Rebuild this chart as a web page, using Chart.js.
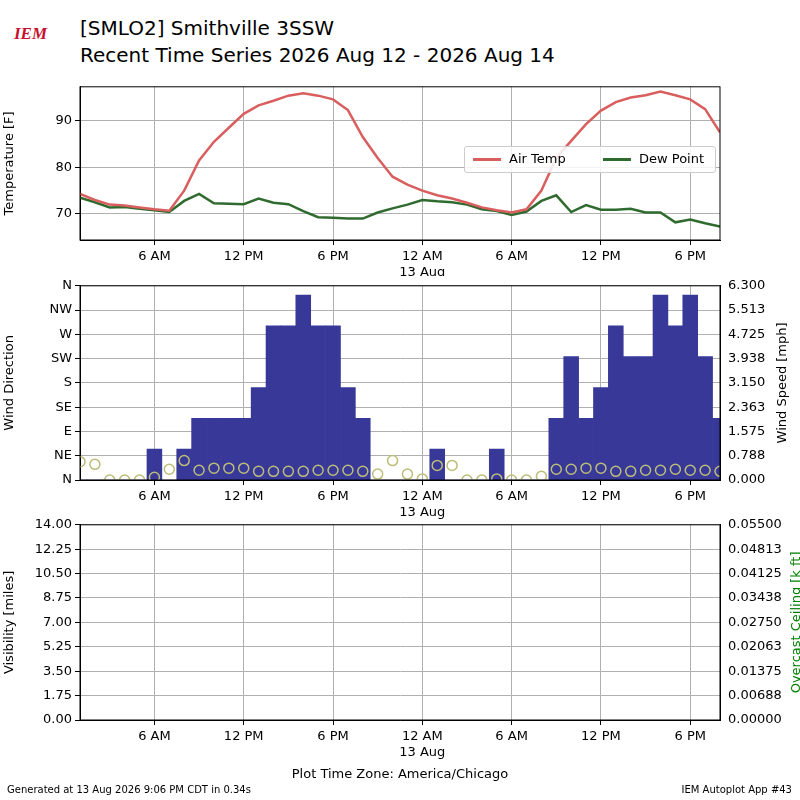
<!DOCTYPE html>
<html>
<head>
<meta charset="utf-8">
<script src="https://cdn.jsdelivr.net/npm/chart.js@4"></script>
<style>
  body { margin: 0; width: 800px; height: 800px; background: #fff; font-family: "DejaVu Sans", sans-serif; position: relative; overflow: hidden; }
  .c { position: absolute; left: 0; width: 800px; }
  .t { position: absolute; white-space: nowrap; color: #000; }
  #legend { position: absolute; left: 464px; top: 146px; width: 250px; height: 25px; border: 1px solid #ccc; border-radius: 3px; background: rgba(255,255,255,0.85); font-size: 13px; }
  #legend span { position: absolute; top: 4px; }
  #legend i { position: absolute; top: 11px; width: 28px; height: 3px; }
</style>
</head>
<body>
<div class="t" style="left:14px;top:24px;font:italic bold 17px 'Liberation Serif';color:#c8102e">IEM</div>
<div class="t" style="left:80px;top:16px;font-size:20px">[SMLO2] Smithville 3SSW</div>
<div class="t" style="left:80px;top:43px;font-size:20px">Recent Time Series 2026 Aug 12 - 2026 Aug 14</div>

<canvas id="tempChart" class="c" style="top:76px;height:200px" width="800" height="200"></canvas>
<canvas id="windChart" class="c" style="top:275px;height:245px" width="800" height="245"></canvas>
<canvas id="visChart" class="c" style="top:514px;height:246px" width="800" height="246"></canvas>

<div id="legend">
  <i style="left:8px;background:#d95f5f"></i><span style="left:44px">Air Temp</span>
  <i style="left:138px;background:#2f6b2f"></i><span style="left:174px">Dew Point</span>
</div>

<div class="t" style="left:0;width:800px;text-align:center;top:766px;font-size:13px">Plot Time Zone: America/Chicago</div>
<div class="t" style="left:7px;top:784px;font-size:10px">Generated at 13 Aug 2026 9:06 PM CDT in 0.34s</div>
<div class="t" style="right:8px;top:784px;font-size:10px">IEM Autoplot App #43</div>

<script>
/* --------------- Data (hours since 12 Aug 00:00 CDT) --------------- */
const hours = [];
for (let h = 1; h <= 44; h++) hours.push(h);

const airTemp = [74.3, 73, 72, 71.8, 71.4, 71, 70.7, 75, 81.5, 85.5, 88.5, 91.5, 93.3, 94.3, 95.4, 95.9, 95.4, 94.6, 92.3, 86.5, 82, 78, 76.3,
  75, 74, 73.3, 72.4, 71.4, 70.8, 70.3, 71, 75, 82, 85.7, 89.3, 92.2, 94, 95, 95.5, 96.3, 95.5, 94.6, 92.5, 87.5];
const dewPoint = [73.5, 72.5, 71.4, 71.5, 71.1, 70.8, 70.4, 72.8, 74.3, 72.3, 72.2, 72.1, 73.3, 72.4, 72.1, 70.6, 69.3, 69.2, 69.0, 69.0, 70.3, 71.2, 72,
  73, 72.7, 72.5, 72, 71, 70.6, 69.8, 70.5, 72.8, 74, 70.4, 71.9, 70.9, 70.9, 71.1, 70.3, 70.3, 68.2, 68.8, 68.0, 67.3];
const windSpeed = [0, 0, 0, 0, 0, 1, 0, 1, 2, 2, 2, 2, 3, 5, 5, 6, 5, 5, 3, 2, 0, 0, 0,
  0, 1, 0, 0, 0, 1, 0, 0, 0, 2, 4, 2, 3, 5, 4, 4, 6, 5, 6, 4, 2];
const windDir = [34, 29, 0, 0, 0, 5, 20, 36, 18, 22, 22, 22, 16, 16, 16, 16, 18, 18, 18, 16, 11, 36, 11,
  2, 27, 27, 0, 0, 2, 0, 0, 7, 20, 20, 22, 22, 16, 16, 18, 18, 20, 18, 18, 16];

const timeTicks = [6, 12, 18, 24, 30, 36, 42];
const timeLabels = { 6: "6 AM", 12: "12 PM", 18: "6 PM", 24: ["12 AM", "13 Aug"], 30: "6 AM", 36: "12 PM", 42: "6 PM" };
const dirLabels = ["N", "NE", "E", "SE", "S", "SW", "W", "NW", "N"];
const speedTicks = [0, 0.788, 1.575, 2.363, 3.150, 3.938, 4.725, 5.513, 6.300];
const visTicks = [0, 1.75, 3.5, 5.25, 7, 8.75, 10.5, 12.25, 14];
const ceilTicks = [0, 0.00688, 0.01375, 0.02063, 0.0275, 0.03438, 0.04125, 0.04813, 0.055];

/* --------------- Shared bits --------------- */
Chart.defaults.font.family = "DejaVu Sans";
Chart.defaults.font.size = 13;
Chart.defaults.color = "#000";
const gridColor = "#b0b0b0";

const pts = (arr) => arr.map((v, i) => ({ x: hours[i], y: v }));
const fixW = (w) => (axis) => { axis.width = w; };
const fixH = (h) => (axis) => { axis.height = h; };
const fixedTicks = (list) => (axis) => { axis.ticks = list.map((v) => ({ value: v })); };

// box round the plot area, plus an optional right-hand title read bottom-to-top
const frame = {
  id: "frame",
  afterDraw(chart, args, opts) {
    const { ctx, chartArea: a } = chart;
    ctx.save();
    ctx.strokeStyle = "#000";
    ctx.lineWidth = 1;
    ctx.strokeRect(a.left, a.top, a.right - a.left, a.bottom - a.top);
    if (opts.rightTitle) {
      ctx.translate(opts.titleX, (a.top + a.bottom) / 2);
      ctx.rotate(-Math.PI / 2);
      ctx.fillStyle = opts.titleColor || "#000";
      ctx.font = "13px 'DejaVu Sans'";
      ctx.textAlign = "center";
      ctx.textBaseline = "middle";
      ctx.fillText(opts.rightTitle, 0, 0);
    }
    ctx.restore();
  },
};

const xAxis = (h) => ({
  type: "linear", min: 1, max: 44, offset: false,
  afterBuildTicks: fixedTicks(timeTicks),
  afterFit: fixH(h),
  ticks: { callback: (v) => timeLabels[v], maxRotation: 0, padding: 4 },
  grid: { color: gridColor, tickColor: "#000", tickLength: 5, offset: false },
  border: { color: "#000" },
});

/* --------------- Temperature --------------- */
new Chart(document.getElementById("tempChart"), {
  type: "line",
  plugins: [frame],
  data: {
    datasets: [
      { label: "Air Temp", data: pts(airTemp), borderColor: "#d95f5f", borderWidth: 2.5, pointRadius: 0, tension: 0 },
      { label: "Dew Point", data: pts(dewPoint), borderColor: "#2f6b2f", borderWidth: 2.5, pointRadius: 0, tension: 0 },
    ],
  },
  options: {
    responsive: false, animation: false,
    layout: { padding: { top: 6, right: 80 } },
    plugins: { legend: { display: false }, tooltip: false, frame: {} },
    scales: {
      x: xAxis(36),
      y: {
        min: 64.4, max: 97.3, afterFit: fixW(80),
        afterBuildTicks: fixedTicks([70, 80, 90]),
        title: { display: true, text: "Temperature [F]", padding: 2 },
        grid: { color: gridColor, tickColor: "#000", tickLength: 5 },
        border: { color: "#000" },
      },
    },
  },
});

/* --------------- Wind --------------- */
new Chart(document.getElementById("windChart"), {
  plugins: [frame],
  data: {
    datasets: [
      { type: "scatter", data: pts(windDir), yAxisID: "y", pointRadius: 5, pointBorderWidth: 1.5,
        pointBorderColor: "#bcbd78", pointBackgroundColor: "rgba(0,0,0,0)", order: 0 },
      { type: "bar", data: pts(windSpeed), yAxisID: "y2", backgroundColor: "#373898",
        barPercentage: 1, categoryPercentage: 1, borderWidth: 0, order: 1 },
    ],
  },
  options: {
    responsive: false, animation: false,
    layout: { padding: { top: 6 } },
    plugins: { legend: { display: false }, tooltip: false,
      frame: { rightTitle: "Wind Speed [mph]", titleX: 783 } },
    scales: {
      x: xAxis(40),
      y: {
        position: "left", min: 0, max: 360, afterFit: fixW(80),
        afterBuildTicks: fixedTicks([0, 45, 90, 135, 180, 225, 270, 315, 360]),
        ticks: { callback: (v) => dirLabels[v / 45] },
        title: { display: true, text: "Wind Direction", padding: 2 },
        grid: { color: gridColor, tickColor: "#000", tickLength: 5 },
        border: { color: "#000" },
      },
      y2: {
        position: "right", min: 0, max: 6.3, afterFit: fixW(80),
        afterBuildTicks: fixedTicks(speedTicks),
        ticks: { callback: (v) => v.toFixed(3) },
        grid: { display: false, tickColor: "#000", tickLength: 5 },
        border: { color: "#000" },
      },
    },
  },
});

/* --------------- Visibility / Ceiling (no data) --------------- */
new Chart(document.getElementById("visChart"), {
  type: "line",
  plugins: [frame],
  data: { datasets: [{ data: [], yAxisID: "y" }, { data: [], yAxisID: "y2" }] },
  options: {
    responsive: false, animation: false,
    layout: { padding: { top: 6 } },
    plugins: { legend: { display: false }, tooltip: false,
      frame: { rightTitle: "Overcast Ceiling [k ft]", titleX: 797, titleColor: "#008000" } },
    scales: {
      x: xAxis(40),
      y: {
        position: "left", min: 0, max: 14, afterFit: fixW(80),
        afterBuildTicks: fixedTicks(visTicks),
        ticks: { callback: (v) => v.toFixed(2) },
        title: { display: true, text: "Visibility [miles]", padding: 2 },
        grid: { color: gridColor, tickColor: "#000", tickLength: 5 },
        border: { color: "#000" },
      },
      y2: {
        position: "right", min: 0, max: 0.055, afterFit: fixW(80),
        afterBuildTicks: fixedTicks(ceilTicks),
        ticks: { callback: (v) => v.toFixed(5) },
        grid: { display: false, tickColor: "#000", tickLength: 5 },
        border: { color: "#000" },
      },
    },
  },
});
</script>
</body>
</html>
